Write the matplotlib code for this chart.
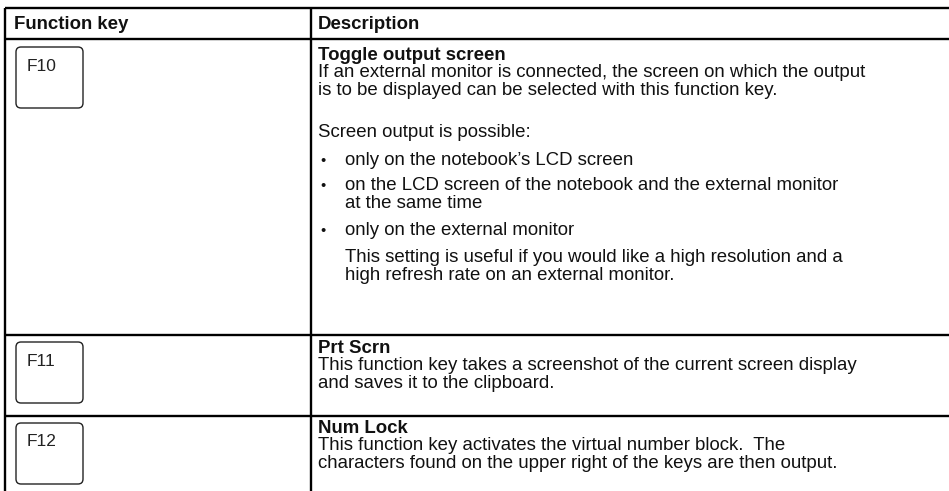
import matplotlib
matplotlib.use("Agg")
import matplotlib.pyplot as plt
from matplotlib.patches import FancyBboxPatch

plt.rcParams['font.family'] = ['Liberation Sans', 'DejaVu Sans']

# ---- data ----
headers = ["Function key", "Description"]
keys = ["F10", "F11", "F12"]
titles = ["Toggle output screen", "Prt Scrn", "Num Lock"]
row1_intro = ["If an external monitor is connected, the screen on which the output",
              "is to be displayed can be selected with this function key."]
row1_para = "Screen output is possible:"
row1_bullets = [["only on the notebook\u2019s LCD screen"],
                ["on the LCD screen of the notebook and the external monitor",
                 "at the same time"],
                ["only on the external monitor"]]
row1_note = ["This setting is useful if you would like a high resolution and a",
             "high refresh rate on an external monitor."]
row2_text = ["This function key takes a screenshot of the current screen display",
             "and saves it to the clipboard."]
row3_text = ["This function key activates the virtual number block.  The",
             "characters found on the upper right of the keys are then output."]

W, H = 949, 491
fig = plt.figure(figsize=(W / 100, H / 100), dpi=100)
ax = fig.add_axes([0, 0, 1, 1])
ax.set_xlim(0, W)
ax.set_ylim(H, 0)
ax.axis('off')

FS = 13.4
FSK = 12.5
lw = 1.7
TXT = '#111111'

# table grid
xl, xm, xr = 5, 311, 949
row_lines = [7.5, 39, 335, 416]
for y in row_lines:
    ax.plot([xl, xr], [y, y], color='black', lw=lw, solid_capstyle='butt')
for x in (xl, xm):
    ax.plot([x, x], [7.5, H], color='black', lw=lw, solid_capstyle='butt')

# headers
ax.text(14, 28.5, headers[0], fontsize=FS, fontweight='bold', va='baseline', ha='left', color=TXT)
ax.text(318, 28.5, headers[1], fontsize=FS, fontweight='bold', va='baseline', ha='left', color=TXT)

# key boxes
box_tops = [47, 342, 423]
for k, top in zip(keys, box_tops):
    p = FancyBboxPatch((16 + 5, top + 5), 67 - 10, 61 - 10,
                       boxstyle="round,pad=5", fc='white', ec='#222222', lw=1.0)
    ax.add_patch(p)
    ax.text(27, top + 23.5, k, fontsize=FSK, va='baseline', ha='left', color='#222222')

tx = 318
bx = 320
btx = 345
LP = 17.5

def lines(x, y0, items, bold=False):
    y = y0
    for s in items:
        ax.text(x, y, s, fontsize=FS, va='baseline', ha='left', color=TXT,
                fontweight='bold' if bold else 'normal')
        y += LP
    return y

# row 1
lines(tx, 59.5, [titles[0]], bold=True)
lines(tx, 77, row1_intro)
ax.text(tx, 137, row1_para, fontsize=FS, va='baseline', ha='left', color=TXT)
b_y = [165, 190, 235]
for by, b in zip(b_y, row1_bullets):
    ax.text(bx, by, "\u2022", fontsize=FS * 0.8, va='baseline', ha='left', color=TXT)
    lines(btx, by, b)
lines(btx, 262, row1_note)

# row 2
lines(tx, 353, [titles[1]], bold=True)
lines(tx, 370.5, row2_text)

# row 3
lines(tx, 433, [titles[2]], bold=True)
lines(tx, 450.5, row3_text)

fig.savefig("out.png", dpi=100)
